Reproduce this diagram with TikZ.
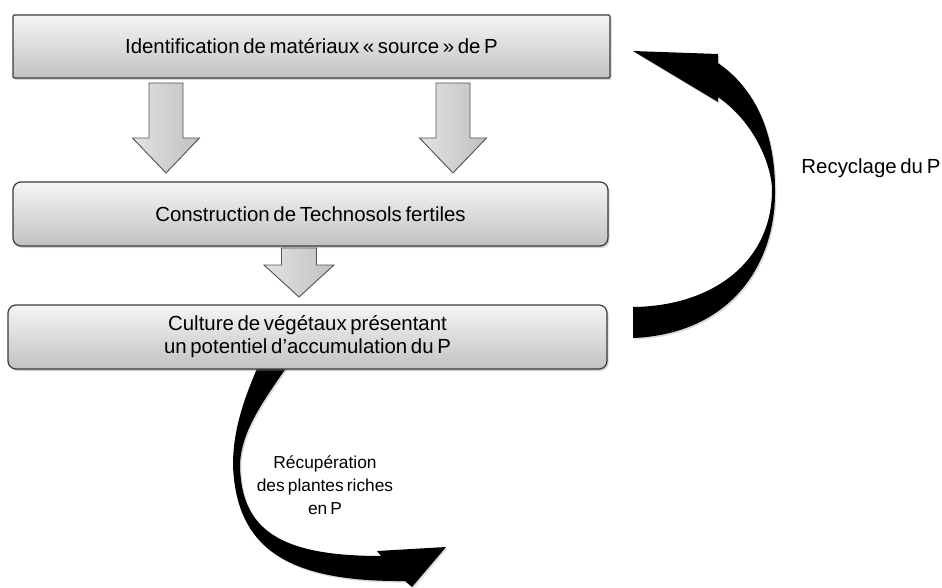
\documentclass[tikz,border=0pt]{standalone}
\usepackage{fontspec}
\setmainfont[WordSpace=0.65]{Liberation Sans}
\usetikzlibrary{positioning, shadows}
\definecolor{boxtop}{HTML}{F5F5F5}
\definecolor{boxbottom}{HTML}{C2C2C2}
\definecolor{boxline}{HTML}{3A3A3A}
\definecolor{arrowfill}{HTML}{D6D6D6}
\definecolor{arrowline}{HTML}{555555}

\begin{document}
\begin{tikzpicture}[
  x=0.75pt, y=-0.75pt,
  font=\fontsize{15.3}{17.25}\selectfont,
  box/.style    = {draw=boxline, line width=0.9pt, top color=boxtop, bottom color=boxbottom,
                   align=center, inner sep=4pt,
                   drop shadow={shadow xshift=1.2pt, shadow yshift=-1.5pt, opacity=0.35}},
  blockarrow/.style = {draw=arrowline, line width=0.7pt, left color=arrowfill!70!white,
                   right color=arrowfill!90!black, line join=miter},
  curvearrow/.style = {fill=black, draw=none,
                   drop shadow={shadow xshift=1pt, shadow yshift=-1.2pt, opacity=0.3}},
  note/.style   = {align=center, inner sep=1pt},
]
\useasboundingbox (0,0) rectangle (942,588);

%% ---------------------------------------------------------------- curved arrows
% recovery of the plants (tail hidden under the last box)
\path[curvearrow] (295,355) .. controls (268,395) and (241,428) .. (240,465)
            .. controls (241,530) and (280,556) .. (381,556)
            -- (377,551) -- (446,547) -- (412,587) -- (405,581)
            .. controls (290,582) and (236,550) .. (233,465)
            .. controls (233,428) and (245,395) .. (263,355) -- cycle;

% recycling loop
\path[curvearrow] (633,307) .. controls (715,306) and (772,260) .. (772,190)
            .. controls (772,170) and (758,125) .. (718,97)
            -- (718,102) -- (633,51) -- (718,54) -- (718,63)
            .. controls (750,85) and (775,125) .. (775,190)
            .. controls (776,265) and (730,334) .. (633,338) -- cycle;

%% ---------------------------------------------------------------- steps
\node[box, rounded corners=1pt, minimum width=447.75pt, minimum height=47.25pt]
  (ident) at (311.5,46.5) {Identification de matériaux « source » de P};
\node[box, rounded corners=6pt, minimum width=446.25pt, minimum height=48pt]
  (constr) at (310.5,214) {Construction de Technosols fertiles};
\node[box, rounded corners=6pt, minimum width=449.25pt, minimum height=48pt]
  (cult) at (307.5,337) {Culture de végétaux présentant\\un potentiel d’accumulation du P};

%% ---------------------------------------------------------------- block arrows
\coordinate (a1) at (166,83);
\coordinate (a2) at (453,83);
\coordinate (a3) at (299,248);
\draw[blockarrow] (a1) ++(-17,0) -- ++(34,0) -- ++(0,55) -- ++(16.5,0)
  -- ++(-33.5,35) -- ++(-33.5,-35) -- ++(16.5,0) -- cycle;
\draw[blockarrow] (a2) ++(-17,0) -- ++(34,0) -- ++(0,55) -- ++(16.5,0)
  -- ++(-33.5,35) -- ++(-33.5,-35) -- ++(16.5,0) -- cycle;
\draw[blockarrow] (a3) ++(-17.5,0) -- ++(35,0) -- ++(0,17) -- ++(17.5,0)
  -- ++(-35,32) -- ++(-35,-32) -- ++(17.5,0) -- cycle;

%% ---------------------------------------------------------------- labels
\node[note, anchor=east] (recyc) at (942,168) {Recyclage du P};
\node[note, font=\fontsize{13}{17.25}\selectfont] (recup) at (325,485)
  {Récupération\\des plantes riches\\en P};
\end{tikzpicture}
\end{document}
